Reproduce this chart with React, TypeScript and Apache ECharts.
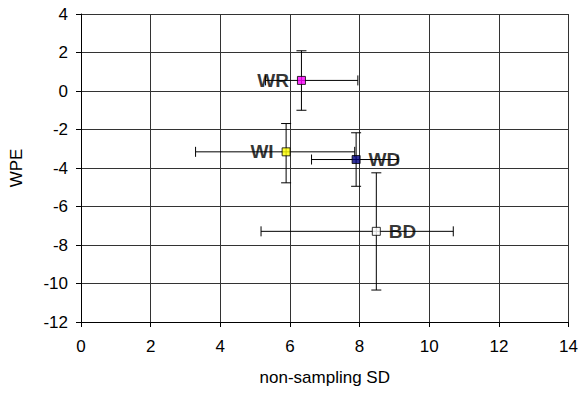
import React, { useEffect, useRef } from "react";
import * as echarts from "echarts";

const names = ["WR", "WI", "WD", "BD"];
const xValues = [6.33, 5.89, 7.9, 8.48];
const yValues = [0.55, -3.16, -3.56, -7.29];
const xLow = [5.3, 3.29, 6.62, 5.17];
const xHigh = [7.95, 7.86, 9.1, 10.69];
const yLow = [-1.0, -4.77, -4.95, -10.34];
const yHigh = [2.09, -1.69, -2.17, -4.25];
const markerColors = ["#FF00FF", "#FFFF00", "#000080", "#FFFFFF"];
const labelSides = ["left", "left", "right", "right"];

const FONT = "'Liberation Sans', Arial, Helvetica, sans-serif";

export default function App() {
  const ref = useRef<HTMLDivElement>(null);
  useEffect(() => {
    document.body.style.margin = "0";
    const chart = echarts.init(ref.current!, null, { renderer: "svg" });
    const errData = names.map((n, i) => [xValues[i], yValues[i], xLow[i], xHigh[i], yLow[i], yHigh[i]]);
    const cap = 5;
    chart.setOption({
      animation: false,
      backgroundColor: "#ffffff",
      textStyle: { fontFamily: FONT },
      grid: { left: 80, right: 12, top: 14, bottom: 71 },
      xAxis: {
        type: "value",
        min: 0,
        max: 14,
        interval: 2,
        name: "non-sampling SD",
        nameLocation: "middle",
        nameGap: 47,
        nameTextStyle: { color: "#000", fontSize: 17, fontFamily: FONT },
        axisLine: { onZero: false, lineStyle: { color: "#000", width: 1 } },
        axisTick: { show: true, inside: false, length: 5, lineStyle: { color: "#000" } },
        axisLabel: { color: "#000", fontSize: 17, margin: 16, fontFamily: FONT },
        splitLine: { show: true, lineStyle: { color: "#333", width: 1 } },
      },
      yAxis: {
        type: "value",
        min: -12,
        max: 4,
        interval: 2,
        name: "WPE",
        nameLocation: "middle",
        nameGap: 56,
        nameTextStyle: { color: "#000", fontSize: 17, fontFamily: FONT },
        axisLine: { onZero: false, lineStyle: { color: "#000", width: 1 } },
        axisTick: { show: true, inside: false, length: 5, lineStyle: { color: "#000" } },
        axisLabel: { color: "#000", fontSize: 17, margin: 13, fontFamily: FONT },
        splitLine: { show: true, lineStyle: { color: "#333", width: 1 } },
      },
      series: [
        {
          type: "custom",
          data: errData,
          z: 2,
          renderItem: (params: any, api: any) => {
            const x = api.value(0), y = api.value(1);
            const xl = api.value(2), xh = api.value(3), yl = api.value(4), yh = api.value(5);
            const pL = api.coord([xl, y]);
            const pH = api.coord([xh, y]);
            const pB = api.coord([x, yl]);
            const pT = api.coord([x, yh]);
            const style = { stroke: "#000", lineWidth: 1, fill: "none" };
            const line = (x1: number, y1: number, x2: number, y2: number) => ({
              type: "line",
              shape: { x1, y1, x2, y2 },
              style,
            });
            return {
              type: "group",
              children: [
                line(pL[0], pL[1], pH[0], pH[1]),
                line(pL[0], pL[1] - cap, pL[0], pL[1] + cap),
                line(pH[0], pH[1] - cap, pH[0], pH[1] + cap),
                line(pB[0], pB[1], pT[0], pT[1]),
                line(pB[0] - cap, pB[1], pB[0] + cap, pB[1]),
                line(pT[0] - cap, pT[1], pT[0] + cap, pT[1]),
              ],
            };
          },
        },
        {
          type: "scatter",
          z: 3,
          symbol: "rect",
          symbolSize: 8,
          data: names.map((n, i) => ({
            name: n,
            value: [xValues[i], yValues[i]],
            itemStyle: { color: markerColors[i], borderColor: "#000", borderWidth: 1 },
            label: {
              show: true,
              position: labelSides[i],
              distance: 8,
              formatter: n,
              color: "#000",
              fontSize: 19,
              fontWeight: "bold",
              fontFamily: FONT,
            },
          })),
        },
      ],
    });
    return () => chart.dispose();
  }, []);
  return <div ref={ref} style={{ position: "absolute", left: 0, top: 0, width: 581, height: 393 }} />;
}
